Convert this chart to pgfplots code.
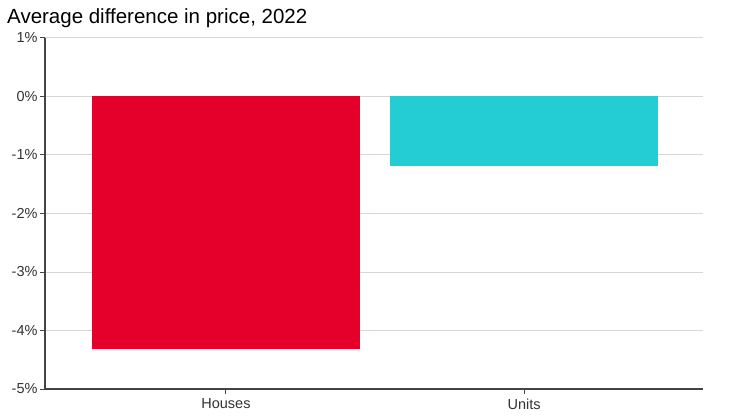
\documentclass[border=0pt]{standalone}
\usepackage{pgfplots}
\pgfplotsset{compat=1.18}
\usepackage{fontspec}
\setmainfont{Liberation Sans}
\definecolor{housered}{HTML}{E4002B}
\definecolor{unitcyan}{HTML}{24CCD4}
\definecolor{gridgray}{HTML}{D6D6D6}
\definecolor{axisdark}{HTML}{444444}
\definecolor{labelgray}{HTML}{333333}

\begin{document}
\begin{tikzpicture}
  % page frame: axis box sits at (0,0)
  \useasboundingbox (-45pt,-28pt) rectangle (698pt,389pt);
  \begin{axis}[
      scale only axis,
      width=658pt, height=351pt,
      at={(0,0)}, anchor=south west,
      xmin=-0.607, xmax=1.6,
      ymin=-5, ymax=1,
      ytick={-5,-4,...,1},
      yticklabel={\pgfmathprintnumber{\tick}\%},
      xtick={0,1},
      xticklabels={Houses,Units},
      /pgf/number format/assume math mode=true,
      ymajorgrids,
      grid style={gridgray, line width=1pt},
      axis x line*=bottom,
      axis y line*=left,
      axis line style={axisdark, line width=1.6pt, -},
      tick style={axisdark, line width=1pt},
      major tick length=5pt,
      xtick align=outside, ytick align=outside,
      ticklabel style={font=\fontsize{14.5}{15}\selectfont, text=labelgray},
      xticklabel style={yshift=-1pt},
      yticklabel style={xshift=1pt},
      ybar, bar width=0.9, bar shift=0pt,
      clip=false,
    ]
    \addplot[fill=housered, draw=none] coordinates {(0,-4.32)};
    \addplot[fill=unitcyan, draw=none] coordinates {(1,-1.18)};
  \end{axis}
  \node[anchor=base west, inner sep=0pt, font=\fontsize{20.5}{23}\selectfont]
    at (-38pt,365pt) {Average difference in price, 2022};
\end{tikzpicture}
\end{document}
